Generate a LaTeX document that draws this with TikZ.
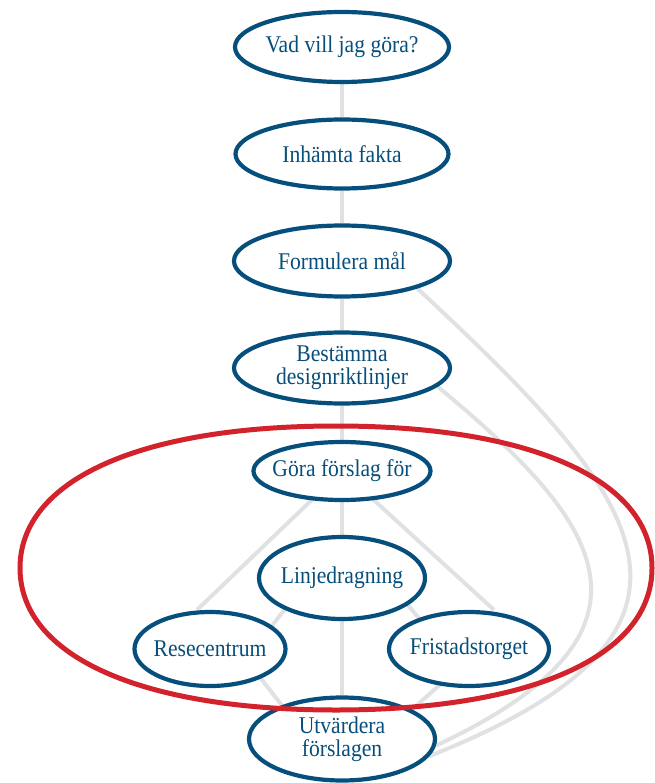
\documentclass[tikz,border=0pt]{standalone}
\usepackage{fontspec}
\setmainfont{Liberation Serif}[FakeStretch=0.9]
\usetikzlibrary{shapes.geometric,calc}
\definecolor{nodeblue}{RGB}{6,79,124}
\definecolor{ringred}{RGB}{210,35,45}
\definecolor{linkgray}{RGB}{224,225,227}
\pgfdeclarelayer{bg}
\pgfsetlayers{bg,main}
\begin{document}
\begin{tikzpicture}[x=1pt,y=-1pt,
  bubble/.style={ellipse, draw=nodeblue, line width=4.2pt, fill=white, text=nodeblue,
    inner xsep=-30pt, inner ysep=-6pt, align=center,
    font=\fontsize{24}{23}\selectfont},
  link/.style={draw=linkgray, line width=4pt},
  ring/.style={draw=ringred, line width=5pt}]
\useasboundingbox (0,0) rectangle (654,783);

\node[bubble, minimum width=214, minimum height=70] (vad)  at (342,47)  {Vad vill jag göra?};
\node[bubble, minimum width=213, minimum height=69] (inh)  at (342,154) {Inhämta fakta};
\node[bubble, minimum width=216, minimum height=71] (form) at (342,261) {Formulera mål};
\node[bubble, minimum width=216, minimum height=71] (best) at (342,368) {Bestämma\\designriktlinjer};
\node[bubble, minimum width=177, minimum height=58] (gora) at (342,471) {Göra förslag för};
\node[bubble, minimum width=166, minimum height=82] (lin)  at (342,578) {Linjedragning};
\node[bubble, minimum width=151, minimum height=74] (res)  at (210,649) {Resecentrum};
\node[bubble, minimum width=160, minimum height=74] (fri)  at (469,649) {Fristadstorget};
\node[bubble, minimum width=186, minimum height=83] (utv)  at (342,739) {Utvärdera\\förslagen};

\begin{pgfonlayer}{bg}
  \draw[link] (vad) -- (inh);
  \draw[link] (inh) -- (form);
  \draw[link] (form) -- (best);
  \draw[link] (best) -- (gora);
  \draw[link] (gora) -- (lin);
  \draw[link] (lin) -- (utv);
  \draw[link] (gora.center) -- ([xshift=-13pt]res.north);
  \draw[link] (gora.center) -- ([xshift=25pt]fri.north);
  \draw[link] ([xshift=-33pt]lin.center) -- ([xshift=44pt]res.center);
  \draw[link] ([xshift=43pt]lin.center) -- ([xshift=-24pt]fri.center);
  \draw[link] ([xshift=28pt]res.center) -- ([xshift=-34pt]utv.center);
  \draw[link] ([xshift=11pt]fri.center) -- ([xshift=37pt]utv.center);
  \draw[link] (form.-20) .. controls ($(form.-20)+(219,204)$) and ($(utv.-11)+(325,-129)$) .. (utv.-11);
  \draw[link] (best.-11) .. controls ($(best.-11)+(154,128)$) and ($(utv.-4)+(252,-118)$) .. (utv.-4);
\end{pgfonlayer}

\draw[ring] (652,568) .. controls (652,480) and (531.9,426) .. (336,426)
  .. controls (140.1,426) and (20,480) .. (20,568)
  .. controls (20,656) and (140.1,710) .. (336,710)
  .. controls (531.9,710) and (652,656) .. cycle;
\end{tikzpicture}
\end{document}
